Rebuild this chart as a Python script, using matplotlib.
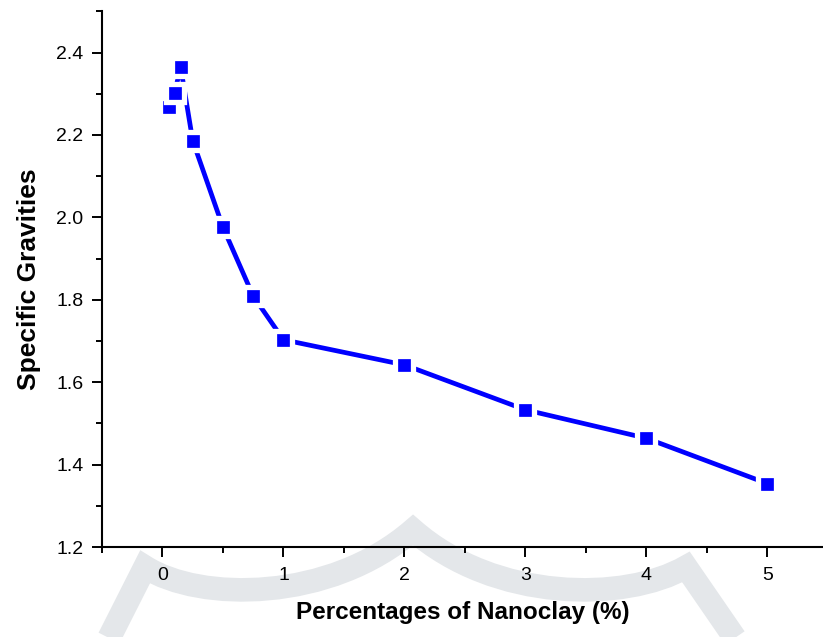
import numpy as np
import matplotlib
matplotlib.use("Agg")
from matplotlib import pyplot as plt
from matplotlib.path import Path
from matplotlib.patches import PathPatch
from matplotlib.ticker import MultipleLocator

plt.rcParams["font.family"] = ["Liberation Sans", "DejaVu Sans"]

# data
nanoclay = [0.05, 0.1, 0.15, 0.25, 0.5, 0.75, 1, 2, 3, 4, 5]
gravity = [2.267, 2.302, 2.365, 2.186, 1.976, 1.809, 1.703, 1.642, 1.533, 1.464, 1.354]
x_ticks = [0, 1, 2, 3, 4, 5]
y_ticks = [1.2, 1.4, 1.6, 1.8, 2.0, 2.2, 2.4]

W, H = 823, 637
fig = plt.figure(figsize=(W / 100, H / 100), dpi=100)
ax = fig.add_axes([102 / W, 1 - 547 / H, 1 - 102 / W, (547 - 11.4) / H])
ax.patch.set_alpha(0)


# faint watermark behind the plot (figure pixel coords)
def px(x, y):
    return (x / W, 1 - y / H)


verts = [px(98, 660), px(145, 567),
         px(200, 602), px(330, 602), px(413, 530),
         px(495, 602), px(625, 602), px(686, 567),
         px(750, 660)]
codes = [Path.MOVETO, Path.LINETO,
         Path.CURVE4, Path.CURVE4, Path.CURVE4,
         Path.CURVE4, Path.CURVE4, Path.CURVE4,
         Path.LINETO]
wm = PathPatch(Path(verts, codes), fill=False, edgecolor="#e4e7ea",
               linewidth=17, joinstyle="miter", capstyle="butt",
               transform=fig.transFigure, zorder=-5)
fig.add_artist(wm)

ax.plot(nanoclay, gravity, color="#0000ff", linewidth=3.4, marker="s",
        markersize=12.5, markerfacecolor="#0000ff", markeredgecolor="white",
        markeredgewidth=3.8, zorder=3)

ax.set_xlim(-0.5, 5.46)
ax.set_ylim(1.2, 2.5)
ax.set_xticks(x_ticks)
ax.set_yticks(y_ticks)
ax.set_yticklabels(["%.1f" % v for v in y_ticks])
ax.xaxis.set_minor_locator(MultipleLocator(0.5))
ax.yaxis.set_minor_locator(MultipleLocator(0.1))

for s in ["top", "right"]:
    ax.spines[s].set_visible(False)
for s in ["left", "bottom"]:
    ax.spines[s].set_linewidth(1.5)

ax.tick_params(which="major", direction="out", length=7.5, width=1.4,
               labelsize=14)
ax.tick_params(which="minor", direction="out", length=4.3, width=1.4)
ax.tick_params(axis="x", which="major", pad=7)
ax.tick_params(axis="y", which="major", pad=6)

ax.set_xlabel("Percentages of Nanoclay (%)", fontsize=17.5, fontweight="bold",
              labelpad=12)
ax.set_ylabel("Specific Gravities", fontsize=19, fontweight="bold",
              labelpad=11)

fig.savefig("out.png", dpi=100)
